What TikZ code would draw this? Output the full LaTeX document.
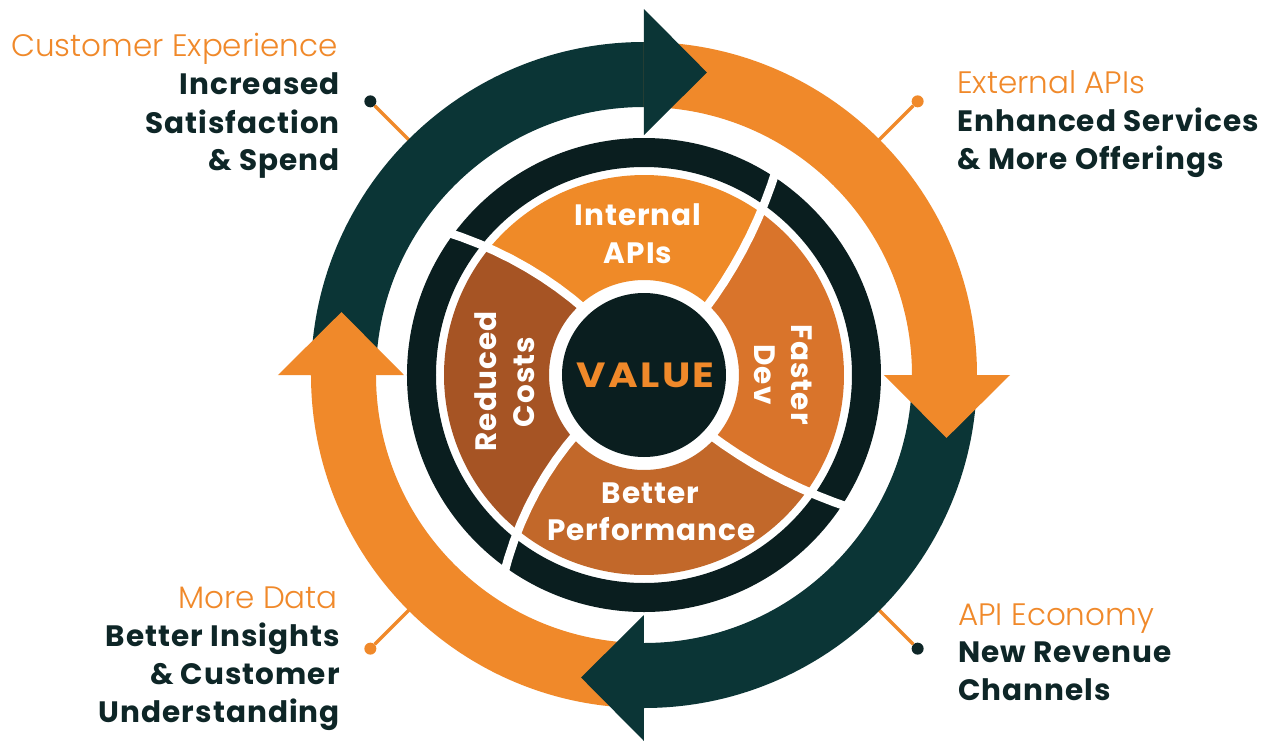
\documentclass[tikz,border=0pt]{standalone}
\usepackage{fontspec}
\setmainfont{Poppins}
\newfontfamily\lightfont{Poppins Light}
\newfontfamily\widebold{Poppins}[LetterSpace=3.5]
\begin{document}
\begin{tikzpicture}[x=1pt,y=1pt]
\definecolor{brandorange}{HTML}{F0892A}
\definecolor{brandteal}{HTML}{0B3536}
\definecolor{ringdark}{HTML}{0A1E1F}
\definecolor{textdark}{HTML}{0E2627}
\definecolor{wedgetop}{HTML}{EF8A28}
\definecolor{wedgeright}{HTML}{D9742B}
\definecolor{wedgebottom}{HTML}{C2682A}
\definecolor{wedgeleft}{HTML}{A65424}
\tikzset{
  headtext/.style={inner sep=0pt, text=brandorange, font=\lightfont\fontsize{31}{36}\selectfont},
  bodytext/.style={inner sep=0pt, text=textdark, font=\widebold\bfseries\fontsize{29.5}{36}\selectfont},
  wedgetext/.style={inner sep=0pt, text=white, font=\widebold\bfseries\fontsize{29.5}{34}\selectfont},
  calloutline/.style={draw=brandorange, line width=3.5pt},
  dotdark/.style={circle, fill=textdark, minimum size=12pt, inner sep=0pt},
  dotorange/.style={circle, fill=brandorange, minimum size=12pt, inner sep=0pt},
  divider/.style={draw=white, line width=8.5pt},
}
% canvas: centre of the wheel at the origin
\useasboundingbox (-644,-365) rectangle (626,375);
\fill[white] (-644,-365) rectangle (626,375);

% callout dots and their leader lines (running under the outer arrows)
\node[dotdark]   (dotTL) at (135:387pt) {};
\node[dotorange] (dotTR) at (45:387pt) {};
\node[dotdark]   (dotBR) at (-45:387pt) {};
\node[dotorange] (dotBL) at (-135:387pt) {};
\coordinate (legTL) at (135:320pt);
\coordinate (legTR) at (45:320pt);
\coordinate (legBR) at (-45:320pt);
\coordinate (legBL) at (-135:320pt);
\draw[calloutline] (dotTL) -- (legTL);
\draw[calloutline] (dotTR) -- (legTR);
\draw[calloutline] (dotBR) -- (legBR);
\draw[calloutline] (dotBL) -- (legBL);

% outer cycle: arrow bodies
\fill[brandteal] (90:333pt) arc[start angle=90, end angle=180, radius=333pt]
  -- (180:268pt) arc[start angle=180, end angle=90, radius=268pt] -- cycle;
\fill[brandorange] (0:333pt) arc[start angle=0, end angle=90, radius=333pt]
  -- (90:268pt) arc[start angle=90, end angle=0, radius=268pt] -- cycle;
\fill[brandteal] (-90:333pt) arc[start angle=-90, end angle=0, radius=333pt]
  -- (0:268pt) arc[start angle=0, end angle=-90, radius=268pt] -- cycle;
\fill[brandorange] (180:333pt) arc[start angle=180, end angle=270, radius=333pt]
  -- (270:268pt) arc[start angle=270, end angle=180, radius=268pt] -- cycle;
% arrow heads on top
\fill[brandteal] (90:240pt) -- (90:366pt) -- (78.25:309pt) -- cycle;
\fill[brandorange] (0:240pt) -- (0:366pt) -- (-11.75:309pt) -- cycle;
\fill[brandteal] (-90:240pt) -- (-90:366pt) -- (-101.75:309pt) -- cycle;
\fill[brandorange] (180:240pt) -- (180:366pt) -- (168.25:309pt) -- cycle;

% dark ring
\fill[ringdark, even odd rule] (0,0) circle[radius=237pt] (0,0) circle[radius=208pt];

% four twisted wedges
\fill[wedgetop]
  plot[domain=95:200, samples=8, variable=\rr] ({47.5+0.065*(\rr-95)}:{\rr})
  arc[start angle=54.325, end angle=140.69, radius=200pt]
  -- plot[domain=200:95, samples=8, variable=\rr] ({132.5+0.078*(\rr-95)}:{\rr})
  arc[start angle=132.5, end angle=47.5, radius=95pt] -- cycle;
\fill[wedgeleft]
  plot[domain=95:200, samples=8, variable=\rr] ({132.5+0.078*(\rr-95)}:{\rr})
  arc[start angle=140.69, end angle=230.95, radius=200pt]
  -- plot[domain=200:95, samples=8, variable=\rr] ({221.5+0.09*(\rr-95)}:{\rr})
  arc[start angle=221.5, end angle=132.5, radius=95pt] -- cycle;
\fill[wedgebottom]
  plot[domain=95:200, samples=8, variable=\rr] ({221.5+0.09*(\rr-95)}:{\rr})
  arc[start angle=230.95, end angle=324.5, radius=200pt]
  -- plot[domain=200:95, samples=8, variable=\rr] ({318.2+0.06*(\rr-95)}:{\rr})
  arc[start angle=318.2, end angle=221.5, radius=95pt] -- cycle;
\fill[wedgeright]
  plot[domain=95:200, samples=8, variable=\rr] ({318.2+0.06*(\rr-95)}:{\rr})
  arc[start angle=324.5, end angle=414.325, radius=200pt]
  -- plot[domain=200:95, samples=8, variable=\rr] ({407.5+0.065*(\rr-95)}:{\rr})
  arc[start angle=407.5, end angle=318.2, radius=95pt] -- cycle;

% white dividers cutting wedges and ring
\draw[divider] plot[domain=88:246, samples=10, variable=\rr] ({47.5+0.065*(\rr-95)}:{\rr});
\draw[divider] plot[domain=88:246, samples=10, variable=\rr] ({132.5+0.078*(\rr-95)}:{\rr});
\draw[divider] plot[domain=88:246, samples=10, variable=\rr] ({221.5+0.09*(\rr-95)}:{\rr});
\draw[divider] plot[domain=88:246, samples=10, variable=\rr] ({318.2+0.06*(\rr-95)}:{\rr});

% hub
\fill[ringdark] (0,0) circle[radius=82pt];
\node[inner sep=0pt, text=brandorange, xscale=1.15, font=\bfseries\fontsize{35}{40}\selectfont\addfontfeature{LetterSpace=6}, anchor=base] (value) at (1.7,-12) {VALUE};

% wedge labels
\node[wedgetext, anchor=base] (intA) at (-6,150) {Internal};
\node[wedgetext, anchor=base] (intB) at (-6,112) {APIs};
\node[wedgetext, anchor=base, rotate=-90] (fastA) at (148,0.5) {Faster};
\node[wedgetext, anchor=base, rotate=-90] (fastB) at (111,0.5) {Dev};
\node[wedgetext, anchor=base] (perfA) at (6.5,-128) {Better};
\node[wedgetext, anchor=base] (perfB) at (7.5,-165) {Performance};
\node[wedgetext, anchor=base, rotate=90] (costA) at (-147,-6.5) {Reduced};
\node[wedgetext, anchor=base, rotate=90] (costB) at (-109,-7) {Costs};

% outer captions
\node[headtext, anchor=base east] (cxA) at (-306,319) {Customer Experience};
\node[bodytext, anchor=base east] (cxB) at (-304,281) {Increased};
\node[bodytext, anchor=base east] (cxC) at (-304,242) {Satisfaction};
\node[bodytext, anchor=base east] (cxD) at (-304,205) {\& Spend};

\node[headtext, anchor=base west] (exA) at (313,282) {External APIs};
\node[bodytext, anchor=base west] (exB) at (313,244) {Enhanced Services};
\node[bodytext, anchor=base west] (exC) at (313,206) {\& More Offerings};

\node[headtext, anchor=base east] (mdA) at (-306,-233) {More Data};
\node[bodytext, anchor=base east] (mdB) at (-304,-271) {Better Insights};
\node[bodytext, anchor=base east] (mdC) at (-304,-309) {\& Customer};
\node[bodytext, anchor=base east] (mdD) at (-304,-347) {Understanding};

\node[headtext, anchor=base west] (aeA) at (314,-250) {API Economy};
\node[bodytext, anchor=base west] (aeB) at (314,-287) {New Revenue};
\node[bodytext, anchor=base west] (aeC) at (314,-325) {Channels};
\end{tikzpicture}
\end{document}
